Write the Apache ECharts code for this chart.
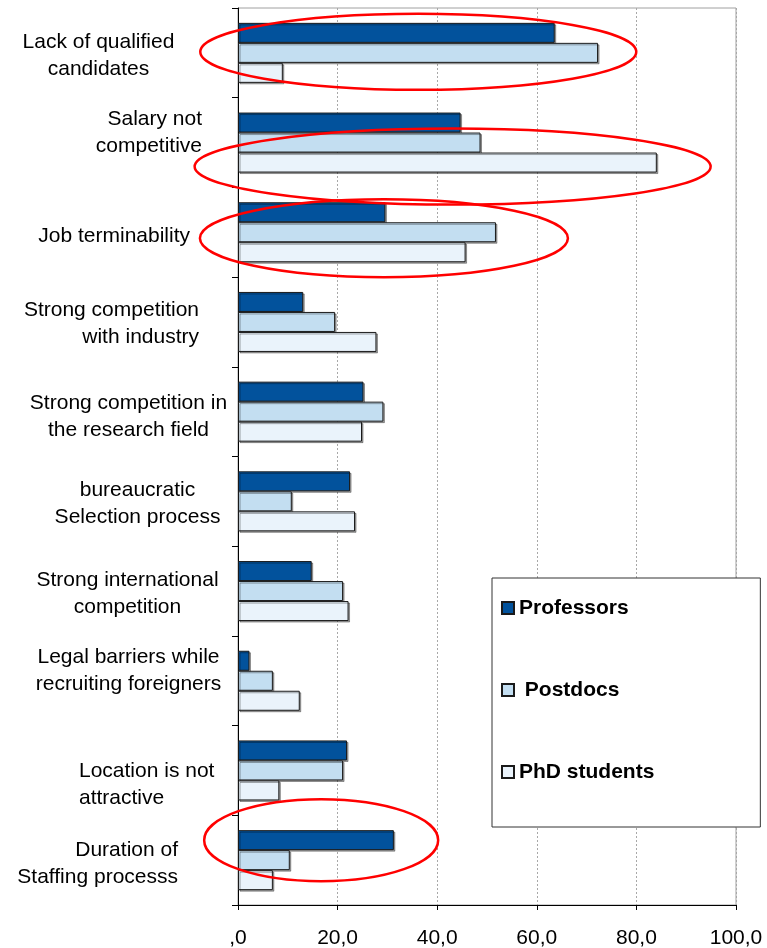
<!DOCTYPE html>
<html>
<head>
<meta charset="utf-8">
<script src="https://cdn.jsdelivr.net/npm/echarts@6/dist/echarts.min.js"></script>
<style>
  html, body { margin: 0; padding: 0; background: #fff; }
  #main { width: 767px; height: 948px; }
</style>
</head>
<body>
<div id="main"></div>
<script>
const categories = [
  'Lack of qualified\ncandidates',
  'Salary not\ncompetitive',
  'Job terminability',
  'Strong competition\nwith industry',
  'Strong competition in\nthe research field',
  'bureaucratic\nSelection process',
  'Strong international\ncompetition',
  'Legal barriers while\nrecruiting foreigners',
  'Location is not\nattractive',
  'Duration of\nStaffing processs'
];
const seriesNames = ['Professors', 'Postdocs', 'PhD students'];
const professors = [63.6, 44.7, 29.6, 13.1, 25.2, 22.5, 14.8, 2.3, 21.9, 31.3];
const postdocs = [72.3, 48.7, 51.8, 19.5, 29.2, 10.8, 21.1, 7.0, 21.1, 10.4];
const phdStudents = [9.0, 84.1, 45.7, 27.8, 24.9, 23.5, 22.2, 12.4, 8.3, 7.0];

// red annotation rings: category index + centre value on the x axis
const highlights = [
  {cat: 0, value: 36.2, rx: 218, ry: 38, dy: -1},
  {cat: 1, value: 43.1, rx: 258, ry: 38, dy: 24},
  {cat: 2, value: 29.3, rx: 184, ry: 39, dy: 6},
  {cat: 9, value: 16.7, rx: 117, ry: 41, dy: -20}
];

// the excel labels are aligned a bit randomly, mimic it
const labelLayout = [
  {align: 'center', padding: [6, 263, 0, 0]},
  {align: 'right', padding: [0, 28, 19, 0]},
  {align: 'right', padding: [8, 40, 0, 0]},
  {align: 'right', padding: [3, 31, 0, 0]},
  {align: 'center', padding: [10, 203, 0, 0]},
  {align: 'center', padding: [5, 185, 0, 0]},
  {align: 'center', padding: [6, 205, 0, 0]},
  {align: 'center', padding: [0, 203, 20, 0]},
  {align: 'right', padding: [28, 13, 0, 0], block: 138},
  {align: 'right', padding: [7, 52, 0, 0]}
];

const font = "'Liberation Sans', Arial, sans-serif";
const colors = ['#02529c', '#c3def1', '#eaf3fb'];
const lineStyleText = {fontSize: 21, lineHeight: 27, fontFamily: font, color: '#000'};

const yData = categories.map((c, i) => {
  const l = labelLayout[i];
  const blk = Object.assign({}, lineStyleText, {align: 'left'});
  if (l.block) blk.width = l.block;
  return {
    value: c,
    textStyle: {align: l.align, padding: l.padding, rich: {t: Object.assign({}, lineStyleText), blk: blk}}
  };
});

const values = [professors, postdocs, phdStudents];

const chart = echarts.init(document.getElementById('main'));

const option = {
  animation: false,
  backgroundColor: '#fff',
  textStyle: {fontFamily: font},
  grid: {
    left: 238, right: 31, top: 8, bottom: 43,
    show: true, borderColor: '#a0a0a0', borderWidth: 1, backgroundColor: '#fff',
    outerBoundsMode: 'none'
  },
  legend: {
    orient: 'vertical',
    left: 492, top: 578,
    data: seriesNames,
    icon: 'rect',
    itemWidth: 12, itemHeight: 12,
    itemGap: 58,
    padding: [18, 106, 43, 9],
    backgroundColor: '#fff',
    borderColor: '#333',
    borderWidth: 1,
    formatter: (n) => n === 'Postdocs' ? ' ' + n : n,
    textStyle: {fontSize: 21, fontWeight: 'bold', color: '#000', fontFamily: font, lineHeight: 24}
  },
  xAxis: {
    type: 'value',
    min: 0, max: 100, interval: 20,
    axisLine: {show: true, lineStyle: {color: '#000', width: 1}},
    axisTick: {show: true, length: 5, lineStyle: {color: '#000'}},
    axisLabel: {
      margin: 23, fontSize: 21, color: '#000', fontFamily: font,
      formatter: (v) => v === 0 ? ',0' : v.toFixed(1).replace('.', ',')
    },
    splitLine: {show: true, lineStyle: {color: '#a8a8a8', type: [2, 2], width: 1}}
  },
  yAxis: {
    type: 'category',
    inverse: true,
    data: yData,
    axisLine: {show: true, lineStyle: {color: '#000', width: 1}},
    axisTick: {show: true, length: 6, lineStyle: {color: '#000'}},
    axisLabel: {
      interval: 0, margin: 8, fontSize: 21, lineHeight: 27, color: '#000', fontFamily: font,
      formatter: (v, i) => {
        const key = labelLayout[i] && labelLayout[i].block ? 'blk' : 't';
        return v.split('\n').map((s) => '{' + key + '|' + s + '}').join('\n');
      }
    },
    splitLine: {show: false}
  },
  series: seriesNames.map((name, k) => ({
    name: name,
    type: 'bar',
    data: values[k],
    barWidth: 20,
    barGap: '0%',
    itemStyle: {
      color: colors[k],
      borderColor: '#1a1a1a',
      borderWidth: 1,
      shadowColor: 'rgba(0,0,0,0.35)',
      shadowOffsetX: 1.5,
      shadowOffsetY: 1.5
    },
    emphasis: {disabled: true}
  }))
};

chart.setOption(option);

chart.setOption({
  graphic: highlights.map((h) => {
    const p = chart.convertToPixel({gridIndex: 0}, [h.value, h.cat]);
    return {
      type: 'ellipse',
      z: 100,
      silent: true,
      shape: {cx: p[0], cy: p[1] + h.dy, rx: h.rx, ry: h.ry},
      style: {fill: 'none', stroke: '#ff0000', lineWidth: 2.5}
    };
  })
});
</script>
</body>
</html>
